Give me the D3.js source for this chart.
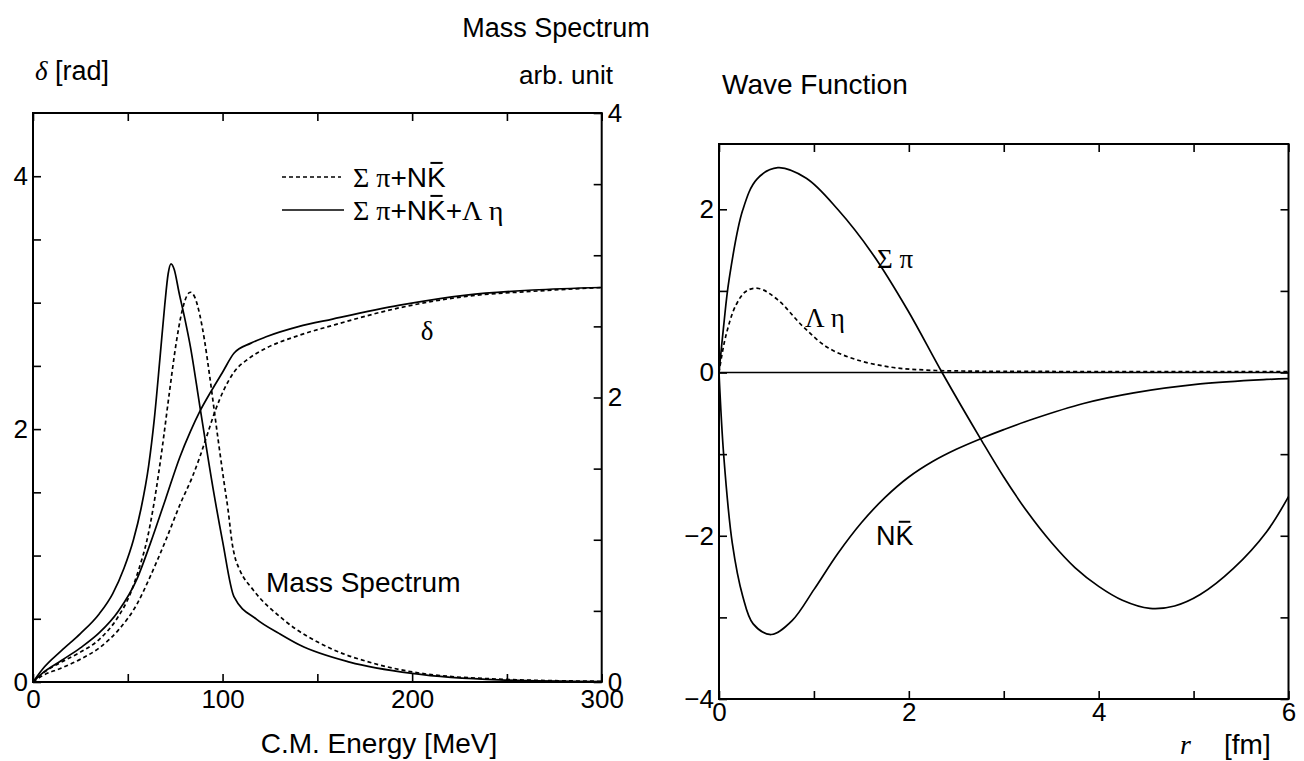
<!DOCTYPE html>
<html>
<head>
<meta charset="utf-8">
<script src="https://cdn.jsdelivr.net/npm/d3@7"></script>
<style>
  body { margin: 0; background: #fff; }
  text { font-family: "Liberation Sans", Arial, sans-serif; fill: #000; }
</style>
</head>
<body>
<svg id="chart" width="1304" height="761"></svg>
<script>
//****************************************************************************
// data

// left panel: [C.M. energy MeV, value]
const deltaThree = [[0,0],[5,0.07],[15,0.17],[25,0.27],[35,0.39],[45,0.56],[55,0.82],[62,1.1],[70,1.45],[77.5,1.78],[83,1.98],[88,2.14],[94,2.3],[100,2.45],[106,2.6],[115,2.68],[123,2.73],[140,2.81],[158,2.87],[193.5,2.98],[228.6,3.06],[263.7,3.1],[300,3.12]];
const deltaTwo = [[0,0],[5,0.05],[15,0.11],[25,0.18],[35,0.27],[45,0.41],[55,0.62],[62,0.84],[70,1.12],[78,1.42],[84,1.62],[88,1.78],[92,1.96],[96,2.14],[101,2.32],[106,2.45],[114,2.56],[123,2.64],[140,2.74],[158,2.82],[193.5,2.96],[228.6,3.05],[263.7,3.09],[300,3.12]];
const massThree = [[0,0],[5,0.09],[15,0.22],[25,0.34],[35,0.48],[42,0.62],[48,0.8],[53,1.0],[57,1.22],[61,1.52],[64,1.85],[67,2.28],[69.5,2.65],[71.3,2.87],[72.8,2.94],[74.5,2.9],[77,2.74],[80,2.56],[83,2.36],[88,1.94],[95,1.36],[100,0.99],[106,0.6],[118,0.44],[130,0.34],[140.7,0.26],[167,0.14],[200,0.06],[246,0.015],[300,0.003]];
const massTwo = [[0,0],[5,0.06],[15,0.14],[25,0.21],[35,0.3],[45,0.46],[51,0.61],[56,0.8],[60,0.99],[64,1.27],[68,1.63],[72,2.04],[75.5,2.38],[78.5,2.6],[81,2.71],[83,2.74],[85.5,2.7],[88,2.58],[90.5,2.4],[93,2.17],[95.5,1.92],[98,1.67],[100.5,1.43],[103,1.2],[105,0.98],[106.5,0.88],[109,0.79],[116,0.65],[132,0.44],[158,0.23],[180,0.13],[200.5,0.07],[246,0.02],[300,0.005]];

// right panel: [r fm, wave function]
const sigmaPi = [[0,0],[0.05,0.58],[0.105,1.13],[0.25,1.99],[0.4,2.37],[0.62,2.51],[0.92,2.38],[1.25,2.0],[1.62,1.45],[1.99,0.76],[2.35,0],[2.77,-0.84],[3,-1.28],[3.25,-1.71],[3.5,-2.08],[3.75,-2.39],[4,-2.62],[4.25,-2.79],[4.54,-2.89],[4.8,-2.86],[5.07,-2.72],[5.42,-2.4],[5.77,-1.95],[6,-1.52]];
const lambdaEta = [[0,0],[0.07,0.44],[0.18,0.83],[0.29,1.0],[0.42,1.03],[0.62,0.89],[0.88,0.57],[1.14,0.31],[1.44,0.16],[1.81,0.066],[2.18,0.03],[2.6,0.018],[3.5,0.013],[6,0.01]];
const nKbar = [[0,0],[0.05,-1.02],[0.14,-2.09],[0.25,-2.74],[0.36,-3.08],[0.55,-3.21],[0.77,-3.04],[1,-2.66],[1.25,-2.22],[1.5,-1.84],[1.75,-1.53],[2,-1.28],[2.25,-1.09],[2.5,-0.94],[2.78,-0.8],[3,-0.7],[3.31,-0.57],[3.84,-0.38],[4.37,-0.25],[5.07,-0.14],[5.77,-0.085],[6,-0.075]];

// ticks
const energyTicks = d3.range(0, 301, 50);
const deltaTicks = d3.range(0, 4.5, 0.5);
const massTicks = d3.range(0, 4.01, 0.5);
const rTicks = d3.range(0, 7, 1);
const waveTicks = d3.range(-4, 3, 1);

//****************************************************************************
// scales

const svg = d3.select("#chart");

const xE = d3.scaleLinear().domain([0, 300]).range([33, 601.7]);
const yDelta = d3.scaleLinear().domain([0, 4.5]).range([682, 113]);
const yMass = d3.scaleLinear().domain([0, 4]).range([682, 113]);

const xR = d3.scaleLinear().domain([0, 6]).range([719, 1288.5]);
const yW = d3.scaleLinear().domain([-4, 2.8]).range([699, 144]);

const tickFont = 26;
const tick = 8;

//****************************************************************************
// axes

const drawAxis = (axis, transform) => {
  const g = svg.append("g").attr("transform", transform).call(axis);
  g.select(".domain").remove();
  g.selectAll("line").attr("stroke", "#000").attr("stroke-width", 1.6);
  g.selectAll("text").attr("font-size", tickFont).attr("font-family", "Liberation Sans, Arial, sans-serif");
  return g;
};

const every = n => d => (Math.abs(d % n) < 1e-9 ? d3.format("")(d).replace("-", "\u2212") : "");

// left panel
drawAxis(d3.axisBottom(xE).tickValues(energyTicks).tickSize(-tick).tickPadding(8).tickFormat(every(100)), "translate(0,682)");
drawAxis(d3.axisTop(xE).tickValues(energyTicks).tickSize(-tick).tickFormat(""), "translate(0,113)");
drawAxis(d3.axisLeft(yDelta).tickValues(deltaTicks).tickSize(-tick).tickPadding(5).tickFormat(every(2)), "translate(33,0)");
drawAxis(d3.axisRight(yMass).tickValues(massTicks).tickSize(-tick).tickPadding(6).tickFormat(every(2)), "translate(601.7,0)");

// right panel
drawAxis(d3.axisBottom(xR).tickValues(rTicks).tickSize(-tick).tickPadding(4).tickFormat(every(2)), "translate(0,699)");
drawAxis(d3.axisTop(xR).tickValues(rTicks).tickSize(-tick).tickFormat(""), "translate(0,144)");
drawAxis(d3.axisLeft(yW).tickValues(waveTicks).tickSize(-tick).tickPadding(5).tickFormat(every(2)), "translate(719,0)");
drawAxis(d3.axisRight(yW).tickValues(waveTicks).tickSize(-tick).tickFormat(""), "translate(1288.5,0)");

// frames
svg.append("rect").attr("x", 33).attr("y", 113).attr("width", 601.7 - 33).attr("height", 682 - 113)
  .attr("fill", "none").attr("stroke", "#000").attr("stroke-width", 2);
svg.append("rect").attr("x", 719).attr("y", 144).attr("width", 1288.5 - 719).attr("height", 699 - 144)
  .attr("fill", "none").attr("stroke", "#000").attr("stroke-width", 2);

//****************************************************************************
// curves

const dash = "4,3";

const drawCurve = (data, x, y, dashed, curve) => {
  svg.append("path")
    .datum(data)
    .attr("fill", "none")
    .attr("stroke", "#000")
    .attr("stroke-width", 1.7)
    .attr("stroke-dasharray", dashed ? dash : null)
    .attr("d", d3.line().x(d => x(d[0])).y(d => y(d[1])).curve(curve || d3.curveMonotoneX));
};

drawCurve(deltaTwo, xE, yDelta, true);
drawCurve(deltaThree, xE, yDelta, false);
drawCurve(massTwo, xE, yMass, true);
drawCurve(massThree, xE, yMass, false);

// zero line
svg.append("line")
  .attr("x1", xR(0)).attr("x2", xR(6)).attr("y1", yW(0)).attr("y2", yW(0))
  .attr("stroke", "#000").attr("stroke-width", 1.5);

const smooth = d3.curveCatmullRom.alpha(0.5);
drawCurve(lambdaEta, xR, yW, true, smooth);
drawCurve(sigmaPi, xR, yW, false, smooth);
drawCurve(nKbar, xR, yW, false, smooth);

//****************************************************************************
// text

const label = (x, y, size, parts, anchor) => {
  const t = svg.append("text").attr("x", x).attr("y", y).attr("font-size", size)
    .attr("text-anchor", anchor || "start");
  const bars = [];
  parts.forEach(p => {
    const s = t.append("tspan").text(p.t);
    if (p.serif) s.attr("font-family", "Liberation Serif, Times New Roman, serif");
    if (p.italic) s.attr("font-style", "italic");
    if (p.bar) bars.push(s);
  });
  // overline on the K of NK-bar
  bars.forEach(s => {
    const box = s.node().getBBox();
    svg.append("line")
      .attr("x1", box.x + box.width * 0.18).attr("x2", box.x + box.width * 0.82)
      .attr("y1", y - size * 0.86).attr("y2", y - size * 0.86)
      .attr("stroke", "#000").attr("stroke-width", 2);
  });
  return t;
};

label(556, 37, 27, [{t: "Mass Spectrum"}], "middle");
label(35, 80, 27, [{t: "\u03b4", serif: true, italic: true}, {t: " [rad]"}]);
label(613, 84, 26, [{t: "arb. unit"}], "end");
label(722, 94, 28, [{t: "Wave Function"}]);
label(379, 753, 28, [{t: "C.M. Energy [MeV]"}], "middle");
label(1180, 754, 28, [{t: "r", serif: true, italic: true}]);
label(1224, 754, 28, [{t: "[fm]"}]);

// legend
svg.append("line").attr("x1", 282).attr("x2", 341).attr("y1", 177).attr("y2", 177)
  .attr("stroke", "#000").attr("stroke-width", 1.6).attr("stroke-dasharray", dash);
svg.append("line").attr("x1", 282).attr("x2", 344).attr("y1", 210).attr("y2", 210)
  .attr("stroke", "#000").attr("stroke-width", 1.6);
label(353, 187, 28, [{t: "\u03a3 \u03c0", serif: true}, {t: "+N"}, {t: "K", bar: true}]);
label(353, 220, 28, [{t: "\u03a3 \u03c0", serif: true}, {t: "+N"}, {t: "K", bar: true}, {t: "+"}, {t: "\u039b \u03b7", serif: true}]);

// annotations
label(427, 340, 27, [{t: "\u03b4", serif: true}], "middle");
label(266, 592, 28, [{t: "Mass Spectrum"}]);
label(877, 268, 27, [{t: "\u03a3 \u03c0", serif: true}]);
label(805, 327, 27, [{t: "\u039b \u03b7", serif: true}]);
label(876, 545, 27, [{t: "N"}, {t: "K", bar: true}]);
</script>
</body>
</html>
